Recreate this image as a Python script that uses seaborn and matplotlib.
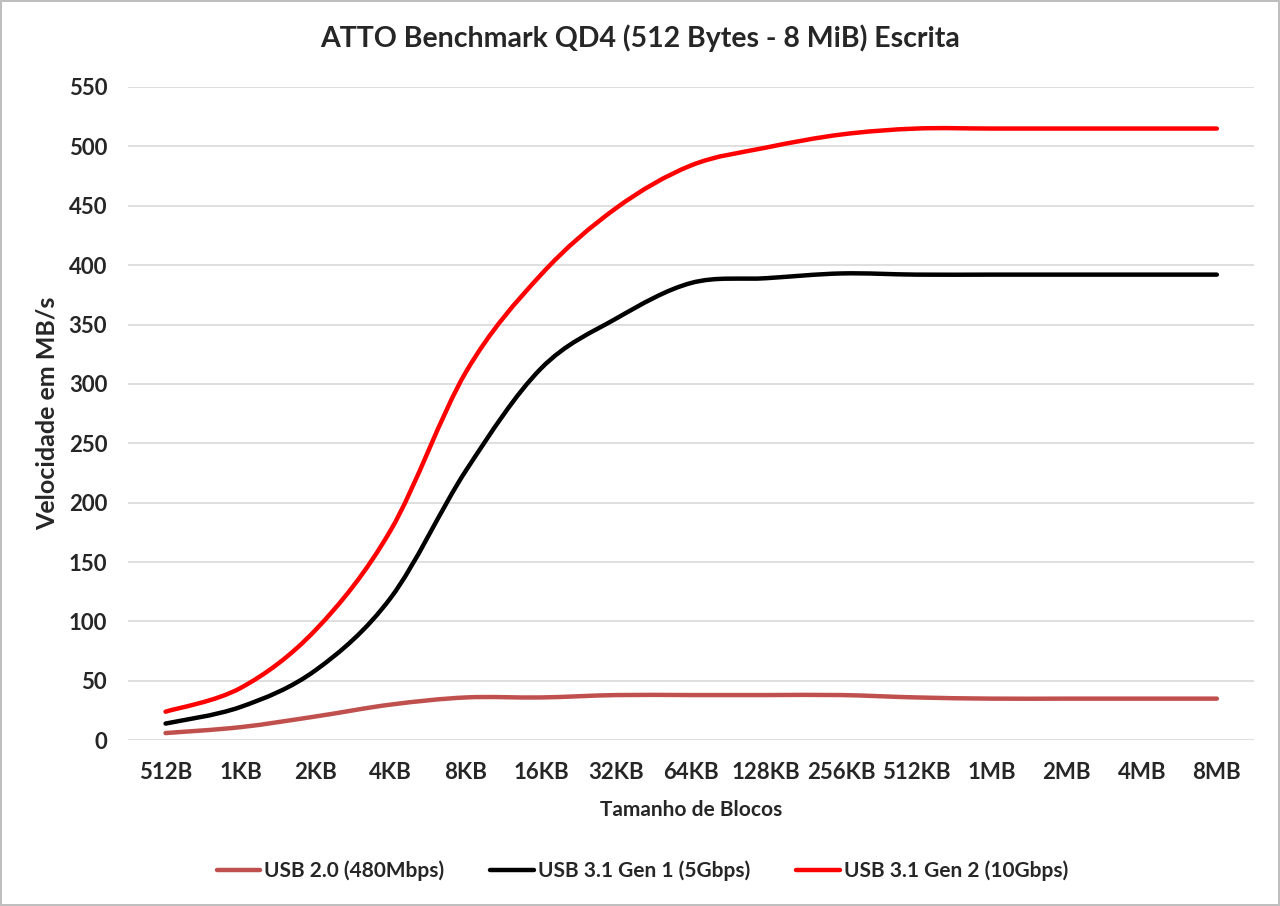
import pandas as pd
import numpy as np
import matplotlib.pyplot as plt
import seaborn as sns
from matplotlib.path import Path
from matplotlib.patches import PathPatch

sns.set_style("white")
plt.rcParams["font.family"] = ["Lato", "DejaVu Sans"]

# data
blocks = ["512B", "1KB", "2KB", "4KB", "8KB", "16KB", "32KB", "64KB",
          "128KB", "256KB", "512KB", "1MB", "2MB", "4MB", "8MB"]
usb20 = [6, 11, 20, 30, 36, 36, 38, 38, 38, 38, 36, 35, 35, 35, 35]
usb31_gen1 = [14, 28, 59, 120, 227, 313, 355, 385, 389, 393, 392, 392, 392, 392, 392]
usb31_gen2 = [24, 44, 93, 177, 310, 392, 448, 484, 499, 510, 515, 515, 515, 515, 515]

names = ["USB 2.0 (480Mbps)", "USB 3.1 Gen 1 (5Gbps)", "USB 3.1 Gen 2 (10Gbps)"]
colors = ["#c0504d", "#000000", "#ff0000"]

df = pd.DataFrame({
    "pos": list(range(len(blocks))) * 3,
    "valor": usb20 + usb31_gen1 + usb31_gen2,
    "serie": [names[0]] * len(blocks) + [names[1]] * len(blocks) + [names[2]] * len(blocks),
})

fig = plt.figure(figsize=(12.8, 9.06), dpi=100)
fig.patch.set_edgecolor("#bfbfbf")
fig.patch.set_linewidth(1.5)
ax = fig.add_axes([0.1, 0.183, 0.88, 0.721])

sns.lineplot(data=df, x="pos", y="valor", hue="serie", hue_order=names,
             palette=colors, linewidth=3.2, ax=ax, legend=True)
handles, labels = ax.get_legend_handles_labels()
ax.get_legend().remove()


# excel-like smoothed lines: bezier segments through the same points
def smooth_path(x, y):
    pts = np.column_stack([x, y]).astype(float)
    ext = np.vstack([pts[0], pts, pts[-1]])
    verts = [pts[0]]
    codes = [Path.MOVETO]
    for i in range(len(pts) - 1):
        p0, p1, p2, p3 = ext[i], ext[i + 1], ext[i + 2], ext[i + 3]
        verts += [p1 + (p2 - p0) / 6, p2 - (p3 - p1) / 6, p2]
        codes += [Path.CURVE4] * 3
    return Path(verts, codes)


for line in list(ax.lines):
    xd, yd = line.get_xdata(), line.get_ydata()
    if len(xd) < 2:
        continue
    patch = PathPatch(smooth_path(xd, yd), facecolor="none",
                      edgecolor=line.get_color(), linewidth=line.get_linewidth(),
                      capstyle="round", joinstyle="round", zorder=line.get_zorder())
    ax.add_patch(patch)
    line.set_visible(False)

ax.set_xlim(-0.5, len(blocks) - 0.5)
ax.set_ylim(0, 550)
ax.set_yticks(range(0, 551, 50))
ax.set_xticks(range(len(blocks)))
ax.set_xticklabels(blocks)
ax.grid(axis="y", color="#d9d9d9", linewidth=1.2)
ax.set_axisbelow(True)
for s in ax.spines.values():
    s.set_visible(False)
ax.tick_params(axis="x", length=0, labelsize=16, pad=16)
ax.tick_params(axis="y", length=0, labelsize=16, pad=15)
for lab in ax.get_xticklabels() + ax.get_yticklabels():
    lab.set_fontweight("bold")

ax.set_xlabel("Tamanho de Blocos", fontsize=15, fontweight="bold", labelpad=12)
ax.set_ylabel("Velocidade em MB/s", fontsize=18, fontweight="bold", labelpad=7)
fig.suptitle("ATTO Benchmark QD4 (512 Bytes - 8 MiB) Escrita", fontsize=20.5,
             fontweight="bold", y=0.973)

fig.legend(handles, labels, loc="center", bbox_to_anchor=(0.502, 0.0386), ncol=3,
           frameon=False, prop={"weight": "bold", "size": 15},
           handlelength=2.1, columnspacing=2.2, handletextpad=0.2)

plt.savefig("out.png", dpi=100)
